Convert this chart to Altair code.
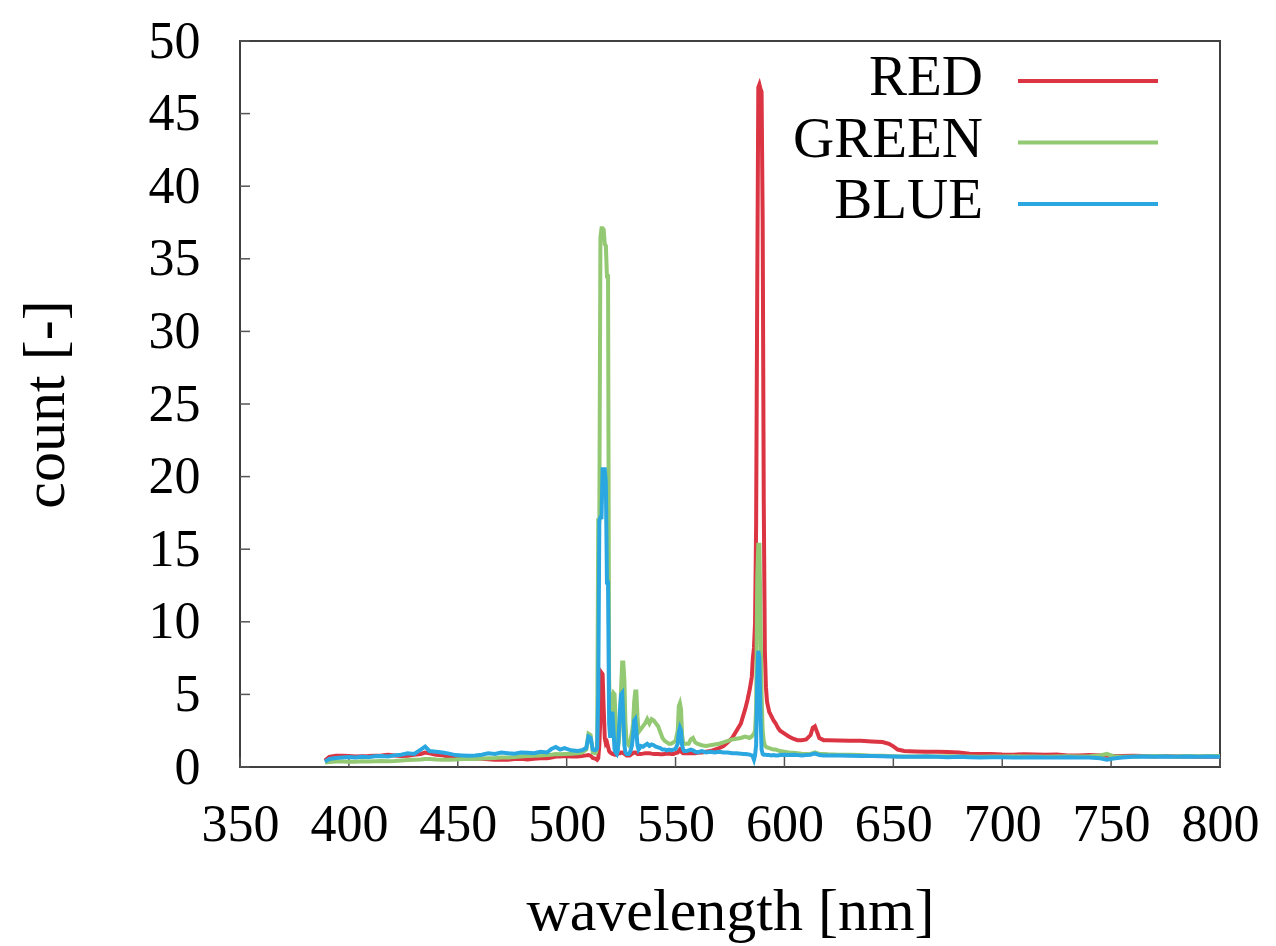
import altair as alt
import pandas as pd

# ---------------- data ----------------
wavelength = [
    389, 391, 394, 397, 400, 403, 406, 409, 412, 415, 418, 421, 424, 427, 430, 433, 435, 437, 440, 443,
    446, 449, 452, 455, 458, 461, 464, 467, 470, 473, 476, 479, 482, 485, 488, 491, 493, 495, 497, 499, 502,
    505, 507, 509, 510, 511, 512, 513, 513.5, 514, 514.5, 515, 515.5, 516, 516.5, 517, 517.5, 518, 518.5, 519, 519.5, 520,
    520.5, 521, 521.5, 522, 522.5, 523, 523.5, 524, 524.5, 525, 525.5, 526, 526.5, 527, 527.5, 528, 528.5, 529, 529.5, 530,
    530.5, 531, 531.5, 532, 532.5, 533, 533.5, 534, 535, 536, 537, 538, 539, 540, 541, 542, 543, 544, 545, 546,
    547, 548, 549, 550, 551, 551.5, 552, 552.5, 553, 553.5, 554, 555, 556, 557, 558, 559, 560,
    562, 564, 566, 568, 570, 572, 574, 576, 578, 580, 581, 582, 583, 584, 585, 585.5, 586, 586.5, 587, 587.5,
    588, 588.5, 589, 589.5, 590, 590.5, 591, 591.5, 592, 593, 594, 595, 596, 597, 598, 600, 602, 604, 606, 608,
    610, 612, 613, 614, 615, 616, 618, 620, 625, 630, 635, 640, 645, 648, 650, 652, 655, 660, 665, 670,
    675, 680, 685, 690, 695, 700, 705, 710, 715, 720, 725, 730, 735, 740, 745, 748, 751, 755, 760, 765,
    770, 775, 780, 785, 790, 795, 800,
]

red = [
    0.45, 0.70, 0.78, 0.78, 0.75, 0.72, 0.74, 0.75, 0.78, 0.80, 0.84, 0.80, 0.76, 0.78, 0.84, 0.90, 1.00, 0.95, 0.85, 0.80,
    0.70, 0.62, 0.60, 0.62, 0.58, 0.56, 0.54, 0.50, 0.52, 0.50, 0.55, 0.56, 0.52, 0.56, 0.60, 0.60, 0.66, 0.72, 0.72, 0.76, 0.72,
    0.72, 0.75, 0.80, 0.82, 0.78, 0.62, 0.58, 0.55, 0.50, 0.60, 1.50, 3.50, 6.50, 6.40, 4.00, 2.00, 1.60, 1.70, 1.40, 1.10, 1.00,
    0.95, 0.90, 0.90, 0.85, 0.85, 0.85, 0.90, 0.95, 0.95, 1.00, 1.00, 0.95, 0.90, 0.85, 0.80, 0.80, 0.80, 0.80, 0.85, 0.90,
    0.95, 1.00, 1.00, 0.95, 0.90, 0.90, 0.90, 0.90, 0.92, 0.95, 0.95, 0.95, 0.92, 0.90, 0.90, 0.90, 0.88, 0.88, 0.90, 0.92,
    0.92, 0.90, 0.90, 0.95, 1.00, 1.10, 1.20, 1.10, 1.00, 0.95, 0.95, 0.95, 0.95, 0.95, 0.95, 0.95, 0.98,
    1.00, 1.05, 1.10, 1.20, 1.30, 1.45, 1.70, 2.00, 2.50, 3.00, 3.50, 4.00, 4.60, 5.30, 6.20, 7.50, 8.20, 9.90, 16.7, 32.8,
    46.8, 47.0, 46.7, 46.5, 37.7, 18.3, 8.00, 5.50, 4.50, 3.80, 3.50, 3.20, 3.00, 2.70, 2.50, 2.30, 2.10, 1.95, 1.85, 1.85,
    1.90, 2.20, 2.70, 2.80, 2.40, 2.00, 1.85, 1.85, 1.82, 1.80, 1.80, 1.76, 1.72, 1.60, 1.42, 1.20, 1.10, 1.07, 1.05, 1.05,
    1.03, 1.00, 0.92, 0.90, 0.90, 0.86, 0.85, 0.88, 0.86, 0.85, 0.86, 0.80, 0.80, 0.82, 0.80, 0.78, 0.76, 0.75, 0.78, 0.75,
    0.72, 0.75, 0.72, 0.72, 0.70, 0.70, 0.70,
]

green = [
    0.30, 0.35, 0.38, 0.38, 0.36, 0.36, 0.40, 0.38, 0.40, 0.42, 0.40, 0.42, 0.45, 0.48, 0.50, 0.52, 0.55, 0.55, 0.52, 0.50,
    0.50, 0.52, 0.55, 0.55, 0.55, 0.58, 0.60, 0.62, 0.65, 0.65, 0.68, 0.72, 0.75, 0.78, 0.80, 0.82, 0.85, 0.90, 0.88, 0.90, 0.92,
    0.95, 1.00, 1.20, 2.30, 2.20, 1.00, 0.95, 1.00, 1.40, 17.0, 17.0, 36.5, 37.1, 37.1, 37.0, 36.0, 35.9, 33.8, 33.8, 6.00, 2.80,
    3.50, 4.80, 5.10, 5.00, 3.00, 1.40, 1.30, 1.80, 3.00, 5.50, 7.20, 7.20, 6.00, 3.00, 1.80, 1.60, 1.50, 1.60, 2.00, 2.40,
    3.00, 4.50, 5.20, 5.20, 3.50, 2.40, 2.50, 2.60, 2.80, 3.00, 3.30, 3.00, 3.30, 3.20, 3.00, 2.80, 2.40, 2.00, 1.80, 1.70,
    1.60, 1.60, 1.70, 1.80, 2.50, 4.20, 4.40, 4.00, 2.20, 1.70, 1.60, 1.60, 1.60, 1.90, 2.00, 1.70, 1.60,
    1.50, 1.45, 1.50, 1.55, 1.60, 1.70, 1.80, 1.90, 1.95, 2.00, 2.05, 2.10, 2.05, 2.00, 2.10, 2.20, 2.30, 2.50, 4.00, 13.0,
    15.3, 15.3, 10.0, 5.00, 2.50, 1.80, 1.50, 1.40, 1.35, 1.30, 1.25, 1.20, 1.20, 1.15, 1.10, 1.05, 1.00, 0.98, 0.95, 0.92,
    0.90, 0.92, 0.95, 1.00, 0.95, 0.90, 0.90, 0.88, 0.85, 0.85, 0.82, 0.78, 0.78, 0.75, 0.74, 0.74, 0.72, 0.72, 0.74, 0.72,
    0.74, 0.72, 0.72, 0.70, 0.72, 0.72, 0.74, 0.72, 0.72, 0.70, 0.72, 0.74, 0.72, 0.74, 0.80, 0.90, 0.74, 0.70, 0.72, 0.74,
    0.75, 0.74, 0.72, 0.75, 0.74, 0.76, 0.76,
]

blue = [
    0.37, 0.55, 0.62, 0.65, 0.68, 0.66, 0.70, 0.68, 0.74, 0.76, 0.72, 0.80, 0.85, 0.95, 0.90, 1.20, 1.40, 1.10, 1.05, 1.00,
    0.92, 0.82, 0.80, 0.78, 0.80, 0.85, 0.95, 0.90, 1.00, 0.95, 0.92, 1.00, 0.98, 0.95, 1.05, 1.00, 1.25, 1.38, 1.20, 1.30, 1.15,
    1.10, 1.15, 1.30, 2.10, 2.00, 1.20, 1.15, 1.20, 1.30, 5.00, 17.0, 17.2, 17.2, 20.5, 20.5, 20.5, 19.6, 12.7, 12.7, 3.00, 2.00,
    3.50, 3.80, 2.50, 1.20, 1.00, 0.90, 1.20, 2.50, 4.00, 5.00, 5.10, 3.50, 1.50, 1.00, 0.90, 0.90, 0.90, 1.00, 1.20, 1.50,
    2.20, 3.20, 3.30, 2.50, 1.50, 1.20, 1.30, 1.45, 1.40, 1.50, 1.60, 1.45, 1.55, 1.50, 1.40, 1.35, 1.30, 1.20, 1.20, 1.15,
    1.20, 1.15, 1.20, 1.25, 1.60, 2.40, 2.70, 2.50, 1.50, 1.20, 1.10, 1.10, 1.15, 1.20, 1.15, 1.05, 1.00,
    1.10, 1.00, 1.05, 1.00, 1.05, 1.00, 1.00, 0.95, 0.95, 0.92, 0.90, 0.90, 0.88, 0.85, 0.80, 0.70, 0.50, 0.80, 1.50, 6.00,
    8.00, 7.50, 3.50, 1.20, 0.90, 0.85, 0.85, 0.85, 0.82, 0.82, 0.80, 0.82, 0.80, 0.80, 0.82, 0.85, 0.82, 0.85, 0.82, 0.80,
    0.82, 0.85, 0.90, 0.92, 0.88, 0.82, 0.80, 0.80, 0.80, 0.78, 0.76, 0.76, 0.74, 0.72, 0.72, 0.70, 0.70, 0.70, 0.72, 0.70,
    0.68, 0.70, 0.68, 0.66, 0.68, 0.68, 0.66, 0.66, 0.68, 0.66, 0.66, 0.68, 0.66, 0.66, 0.60, 0.50, 0.58, 0.65, 0.70, 0.72,
    0.70, 0.72, 0.70, 0.72, 0.70, 0.72, 0.70,
]

series = ["RED", "GREEN", "BLUE"]
colors = ["#db3442", "#94c973", "#2aa7e0"]
x_ticks = [350, 400, 450, 500, 550, 600, 650, 700, 750, 800]
y_ticks = [0, 5, 10, 15, 20, 25, 30, 35, 40, 45, 50]

assert len(wavelength) == len(red) == len(green) == len(blue), (len(wavelength), len(red), len(green), len(blue))

# ---------------- build tables ----------------
rows = []
for name, vals in zip(series, [red, green, blue]):
    for w, v in zip(wavelength, vals):
        rows.append({"wavelength": w, "count": v, "series": name})
df = pd.DataFrame(rows)
xt = pd.DataFrame({"v": x_ticks})
yt = pd.DataFrame({"v": y_ticks})

W, H = 980, 726
FONT = "Liberation Serif"
FS = 52      # tick labels
FS_T = 60    # axis titles
FS_L = 57    # legend

xscale = alt.Scale(domain=[350, 800], nice=False, zero=False)
yscale = alt.Scale(domain=[0, 50], nice=False, zero=False)
cscale = alt.Scale(domain=series, range=colors)

x_axis = alt.Axis(values=x_ticks, ticks=False, tickSize=0, domain=False, grid=False,
                  labelFont=FONT, labelFontSize=FS, labelColor="black", labelPadding=32,
                  labelOverlap=False, labelFlush=False,
                  title="wavelength [nm]", titleFont=FONT, titleFontSize=FS_T,
                  titleFontWeight="normal", titleColor="black", titlePadding=32)
y_axis = alt.Axis(values=y_ticks, ticks=False, tickSize=0, domain=False, grid=False,
                  labelFont=FONT, labelFontSize=FS, labelColor="black", labelPadding=40,
                  labelOverlap=False, labelFlush=False,
                  title="count [-]", titleFont=FONT, titleFontSize=FS_T,
                  titleFontWeight="normal", titleColor="black", titlePadding=72)

ytick_layer = alt.Chart(yt).mark_rule(color="#555555", strokeWidth=1.5).encode(
    y=alt.Y("v:Q", scale=yscale, axis=y_axis), x=alt.value(0), x2=alt.value(10))
xtick_layer = alt.Chart(xt).mark_rule(color="#555555", strokeWidth=1.5).encode(
    x=alt.X("v:Q", scale=xscale, axis=x_axis), y=alt.value(H), y2=alt.value(H - 10))

line_layers = []
for name in series:
    line_layers.append(
        alt.Chart(df).transform_filter(alt.datum.series == name).mark_line(strokeWidth=4).encode(
            x=alt.X("wavelength:Q", scale=xscale, axis=x_axis),
            y=alt.Y("count:Q", scale=yscale, axis=y_axis),
            color=alt.Color("series:N", scale=cscale, legend=None),
        )
    )

# legend (label right-aligned, sample line to the right)
leg_layers = []
for i, (name, col) in enumerate(zip(series, colors)):
    ly = 40 + 61.5 * i
    leg_layers.append(
        alt.Chart(pd.DataFrame({"t": [name]})).mark_text(
            font=FONT, fontSize=FS_L, align="right", baseline="middle", color="black"
        ).encode(text="t:N", x=alt.value(743), y=alt.value(ly - 3))
    )
    leg_layers.append(
        alt.Chart(pd.DataFrame({"t": [name]})).mark_rule(color=col, strokeWidth=4).encode(
            x=alt.value(778), x2=alt.value(918), y=alt.value(ly)
        )
    )

chart = alt.layer(ytick_layer, xtick_layer, *line_layers, *leg_layers).properties(
    width=W, height=H,
    autosize=alt.AutoSizeParams(type="none"),
    padding={"left": 240, "top": 41, "right": 56, "bottom": 179},
    background="white",
).configure_view(stroke="#404040", strokeWidth=2)

chart.save("out.html", embed_options={"renderer": "svg", "actions": False})
